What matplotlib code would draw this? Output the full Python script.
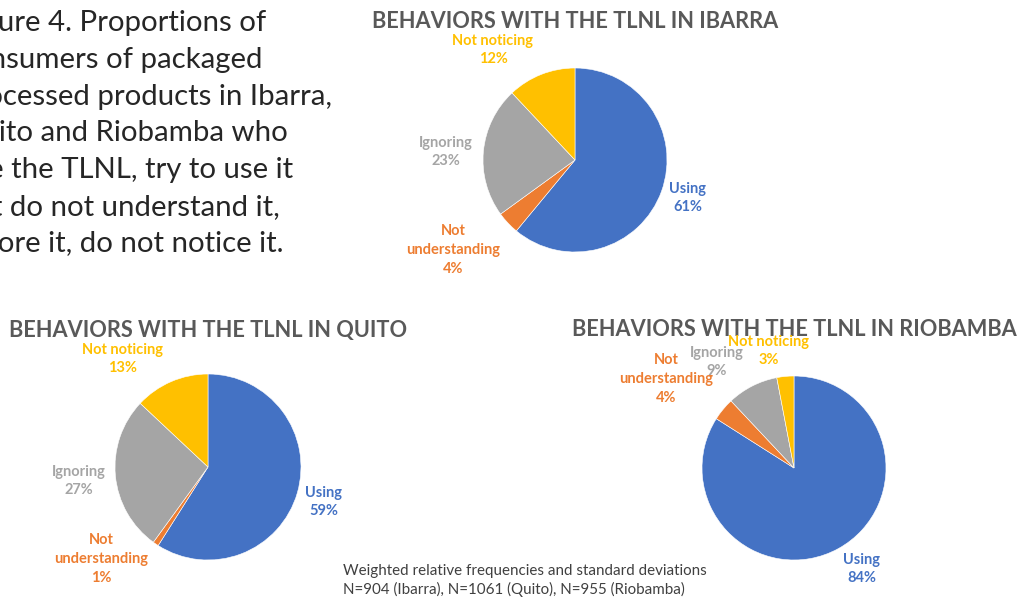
import matplotlib.pyplot as plt

W, H = 1019, 599

# data
categories = ["Using", "Not understanding", "Ignoring", "Not noticing"]
label_names = ["Using", "Not\nunderstanding", "Ignoring", "Not noticing"]
ibarra = [61, 4, 23, 12]
quito = [59, 1, 27, 13]
riobamba = [84, 4, 9, 3]
cities = ["IBARRA", "QUITO", "RIOBAMBA"]
sample_sizes = [904, 1061, 955]

colors = ["#4472C4", "#ED7D31", "#A5A5A5", "#FFC000"]
title_color = "#595959"

caption = ["Figure 4. Proportions of",
           "consumers of packaged",
           "processed products in Ibarra,",
           "Quito and Riobamba who",
           "use the TLNL, try to use it",
           "but do not understand it,",
           "ignore it, do not notice it."]

# layout in pixels (x, y from top)
pies = [
    dict(vals=ibarra, center=(575, 160), r=92, title=(575, 21),
         labels=[(688, 198), (453, 250), (446, 152), (493, 50)]),
    dict(vals=quito, center=(208, 467), r=93, title=(208, 330),
         labels=[(324, 502), (101, 559), (79, 481), (123, 359)]),
    dict(vals=riobamba, center=(794, 468), r=92, title=(794, 330),
         labels=[(862, 569), (666, 379), (717, 362), (769, 351)]),
]

fig = plt.figure(figsize=(W / 100, H / 100), dpi=100)
ax = fig.add_axes([0, 0, 1, 1])

for p, city in zip(pies, cities):
    cx, cy = p["center"]
    ax.pie(p["vals"], colors=colors, startangle=90, counterclock=False,
           center=(cx, H - cy), radius=p["r"],
           wedgeprops=dict(edgecolor="white", linewidth=0.4))
    tx, ty = p["title"]
    ax.text(tx, H - ty, "BEHAVIORS WITH THE TLNL IN " + city, ha="center", va="center",
            fontsize=15.7, fontweight="bold", color=title_color, family="Lato")
    for (lx, ly), name, v, c in zip(p["labels"], label_names, p["vals"], colors):
        ax.text(lx, H - ly, f"{name}\n{v}%", ha="center", va="center",
                multialignment="center", fontsize=10.5, fontweight="bold",
                color=c, family="Lato", linespacing=1.45)

ax.set_xlim(0, W)
ax.set_ylim(0, H)
ax.set_aspect("equal")
ax.axis("off")

# caption: left-aligned block, cut by the left edge of the picture
# ("ure 4. Proportions of" is what shows, from x=2 to x=271)
renderer = fig.canvas.get_renderer()
probe = ax.text(0, 0, caption[0][3:], fontsize=20, family="Lato")
fs = 20 * 269 / probe.get_window_extent(renderer).width
probe.remove()
probe = ax.text(0, 0, caption[0], fontsize=fs, family="Lato")
x0 = 271 - probe.get_window_extent(renderer).width - 5
probe.remove()
for i, line in enumerate(caption):
    ax.text(x0, H - (31 + 36.8 * i), line, va="baseline", fontsize=fs,
            family="Lato", color="#262626")

ax.text(343, H - 575, "Weighted relative frequencies and standard deviations",
        va="baseline", fontsize=10.9, family="Lato", color="#404040")
ax.text(343, H - 594, ", ".join(f"N={n} ({c.capitalize()})" for n, c in zip(sample_sizes, cities)),
        va="baseline", fontsize=10.9, family="Lato", color="#404040")

fig.savefig("out.png", dpi=100)
